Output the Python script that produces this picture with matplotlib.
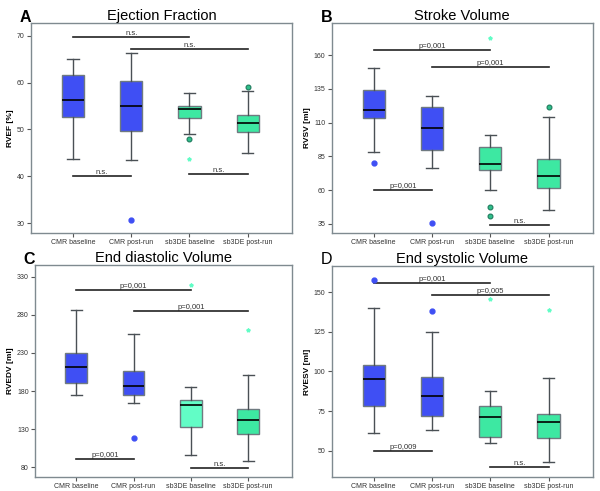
import matplotlib
matplotlib.use("Agg")
from matplotlib import pyplot as plt

plt.rcParams['font.family'] = ['Liberation Sans', 'DejaVu Sans']

groups = ["CMR baseline", "CMR post-run", "sb3DE baseline", "sb3DE post-run"]

# per panel: (whislo, q1, med, q3, whishi) for each group
ef_stats = [(43.6, 52.7, 56.3, 61.5, 65.0),
            (43.4, 49.75, 54.9, 60.3, 66.2),
            (49.0, 52.45, 54.4, 54.9, 57.7),
            (44.9, 49.5, 51.4, 53.0, 58.1)]
sv_stats = [(88.0, 113.6, 119.6, 133.9, 150.1),
            (76.2, 90.0, 106.3, 121.5, 129.4),
            (60.1, 74.9, 79.1, 91.7, 100.6),
            (45.4, 61.9, 70.3, 83.3, 113.9)]
edv_stats = [(175.3, 190.1, 211.1, 230.3, 286.7),
             (163.9, 174.4, 186.2, 205.9, 254.4),
             (96.6, 132.4, 161.3, 168.3, 184.9),
             (88.7, 123.7, 141.6, 156.9, 201.1)]
esv_stats = [(61.0, 78.0, 95.1, 103.9, 140.3),
             (62.8, 72.1, 84.5, 96.5, 124.9),
             (54.8, 58.8, 71.1, 78.4, 87.9),
             (42.6, 58.0, 68.3, 73.2, 95.7)]

# outliers: (group index, value, kind) kind "o" = outlier, "*" = extreme
ef_out = [(1, 30.6, "o"), (2, 47.9, "o"), (2, 43.6, "*"), (3, 59.1, "o")]
sv_out = [(0, 80.1, "o"), (1, 35.7, "o"), (2, 47.6, "o"), (2, 41.2, "o"),
          (2, 172.8, "*"), (3, 121.3, "o")]
edv_out = [(1, 118.0, "o"), (2, 318.6, "*"), (3, 260.1, "*")]
esv_out = [(0, 158.0, "o"), (1, 138.2, "o"), (2, 145.8, "*"), (3, 138.8, "*")]

# significance bars: (from group, to group, y, label)
ef_sig = [(0, 2, 69.7, "n.s."), (1, 3, 67.2, "n.s."),
          (0, 1, 40.1, "n.s."), (2, 3, 40.4, "n.s.")]
sv_sig = [(0, 2, 163.9, "p=0,001"), (1, 3, 151.4, "p=0,001"),
          (0, 1, 60.1, "p=0,001"), (2, 3, 34.5, "n.s.")]
edv_sig = [(0, 2, 313.0, "p=0,001"), (1, 3, 284.5, "p=0,001"),
           (0, 1, 90.5, "p=0,001"), (2, 3, 78.7, "n.s.")]
esv_sig = [(0, 2, 156.1, "p=0,001"), (1, 3, 148.5, "p=0,005"),
           (0, 1, 50.0, "p=0,009"), (2, 3, 39.7, "n.s.")]

ef_ticks = [30, 40, 50, 60, 70]
sv_ticks = [35, 60, 85, 110, 135, 160]
edv_ticks = [80, 130, 180, 230, 280, 330]
esv_ticks = [50, 75, 100, 125, 150]

blue = "#3f4ff4"
green = "#3de8a2"
light_green = "#62fdc6"

panels = [
    ("A", "Ejection Fraction", "RVEF [%]", ef_stats, ef_out, ef_sig, ef_ticks,
     (27.9, 72.7), [0.0517, 0.5255, 0.435, 0.4277], [blue, blue, green, green],
     (20, 18)),
    ("B", "Stroke Volume", "RVSV [ml]", sv_stats, sv_out, sv_sig, sv_ticks,
     (28.3, 183.7), [0.553, 0.5255, 0.435, 0.4277], [blue, blue, green, green],
     (321, 18)),
    ("C", "End diastolic Volume", "RVEDV [ml]", edv_stats, edv_out, edv_sig, edv_ticks,
     (67.3, 345.3), [0.0583, 0.0285, 0.428, 0.432], [blue, blue, light_green, green],
     (23, 259)),
    ("D", "End systolic Volume", "RVESV [ml]", esv_stats, esv_out, esv_sig, esv_ticks,
     (33.4, 166.6), [0.553, 0.0285, 0.435, 0.430], [blue, blue, green, green],
     (321, 259)),
]

fig = plt.figure(figsize=(6, 4.91), dpi=100)

for letter, title, ylabel, stats, outs, sigs, ticks, ylim, rect, colors, lpos in panels:
    ax = fig.add_axes(rect)
    bstats = []
    for name, (lo, q1, med, q3, hi) in zip(groups, stats):
        bstats.append(dict(label=name, whislo=lo, q1=q1, med=med, q3=q3,
                           whishi=hi, fliers=[]))
    pos = list(range(1, len(groups) + 1))
    bp = ax.bxp(bstats, positions=pos, widths=0.38, patch_artist=True,
                showfliers=False,
                boxprops=dict(edgecolor="#6f7a80", linewidth=1.0),
                whiskerprops=dict(color="#4a5055", linewidth=1.0),
                capprops=dict(color="#4a5055", linewidth=1.0),
                medianprops=dict(color="black", linewidth=1.2),
                capwidths=0.19)
    for patch, c in zip(bp["boxes"], colors):
        patch.set_facecolor(c)

    for gi, val, kind in outs:
        if kind == "*":
            ax.plot(pos[gi], val, marker="*", ms=2.8, color=light_green,
                    mec=light_green, ls="none", zorder=5)
        elif colors[gi] == blue:
            ax.plot(pos[gi], val, marker="o", ms=3.5, color=blue,
                    mec=blue, ls="none", zorder=5)
        else:
            ax.plot(pos[gi], val, marker="o", ms=3.5, color="#2fbf8a",
                    mec="#1d7a5c", mew=0.8, ls="none", zorder=5)

    for a, b, y, lab in sigs:
        ax.plot([pos[a], pos[b]], [y, y], color="#222222", lw=1.2, zorder=4)
        ax.text((pos[a] + pos[b]) / 2, y, lab, ha="center", va="bottom",
                fontsize=5.5, color="#333333")

    ax.set_xlim(0.28, 4.76)
    ax.set_ylim(*ylim)
    ax.set_yticks(ticks)
    ax.set_xticks(pos)
    ax.set_xticklabels(groups)
    ax.tick_params(axis="both", labelsize=5, length=3, color="#555555",
                   labelcolor="#333333", width=0.8, pad=1.5)
    ax.set_ylabel(ylabel, fontsize=6, fontweight="bold", labelpad=2)
    for s in ax.spines.values():
        s.set_color("#7f8a90")
        s.set_linewidth(1.0)
    ax.set_title(title, fontsize=10.5, pad=1)
    fig.text(lpos[0] / 600, 1 - lpos[1] / 491, letter, fontsize=11.5,
             fontweight="bold" if letter != "D" else "normal",
             ha="left", va="center")

fig.savefig("out.png", dpi=100)
